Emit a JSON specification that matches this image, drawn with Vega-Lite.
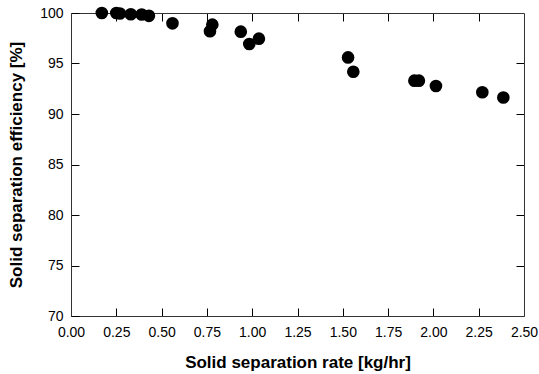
{
  "$schema": "https://vega.github.io/schema/vega-lite/v6.json",
  "width": 453,
  "height": 303,
  "autosize": "none",
  "padding": {"left": 71, "top": 13, "right": 15, "bottom": 58},
  "background": "white",
  "config": {
    "view": {"stroke": null},
    "font": "Liberation Sans",
    "axis": {
      "grid": false,
      "domainColor": "#333333",
      "tickColor": "#000000",
      "labelColor": "#000000",
      "titleColor": "#000000",
      "labelFont": "Liberation Sans",
      "titleFont": "Liberation Sans",
      "labelFontSize": 14,
      "titleFontSize": 17,
      "titleFontWeight": "bold",
      "tickSize": -8
    }
  },
  "data": {
    "values": [
      {"rate": 0.17, "eff": 100.0},
      {"rate": 0.25, "eff": 100.0},
      {"rate": 0.27, "eff": 99.95},
      {"rate": 0.33, "eff": 99.88},
      {"rate": 0.39, "eff": 99.85},
      {"rate": 0.43, "eff": 99.72},
      {"rate": 0.56, "eff": 98.98},
      {"rate": 0.767, "eff": 98.2},
      {"rate": 0.78, "eff": 98.85},
      {"rate": 0.937, "eff": 98.15},
      {"rate": 0.984, "eff": 96.93},
      {"rate": 1.037, "eff": 97.46},
      {"rate": 1.529, "eff": 95.6},
      {"rate": 1.558, "eff": 94.18},
      {"rate": 1.895, "eff": 93.3},
      {"rate": 1.92, "eff": 93.3},
      {"rate": 2.014, "eff": 92.77},
      {"rate": 2.27, "eff": 92.15},
      {"rate": 2.386, "eff": 91.63}
    ]
  },
  "layer": [
    {
      "mark": {"type": "point", "shape": "circle", "filled": true, "color": "#000000", "opacity": 1, "size": 160},
      "encoding": {
        "x": {
          "field": "rate", "type": "quantitative",
          "scale": {"domain": [0, 2.5], "nice": false, "zero": false},
          "axis": {"values": [0, 0.25, 0.5, 0.75, 1, 1.25, 1.5, 1.75, 2, 2.25, 2.5], "format": ".2f", "labelPadding": 17, "title": "Solid separation rate [kg/hr]", "titlePadding": 15, "labelFlush": false}
        },
        "y": {
          "field": "eff", "type": "quantitative",
          "scale": {"domain": [70, 100], "nice": false, "zero": false},
          "axis": {"values": [70, 75, 80, 85, 90, 95, 100], "labelPadding": 16, "title": "Solid separation efficiency [%]", "titlePadding": 14, "labelFlush": false}
        }
      }
    },
    {
      "mark": {"type": "point", "opacity": 0},
      "encoding": {
        "x": {
          "field": "rate", "type": "quantitative",
          "scale": {"domain": [0, 2.5], "nice": false, "zero": false},
          "axis": {"orient": "top", "values": [0.25, 0.5, 0.75, 1, 1.25, 1.5, 1.75, 2, 2.25], "labels": false, "title": null}
        },
        "y": {
          "field": "eff", "type": "quantitative",
          "scale": {"domain": [70, 100], "nice": false, "zero": false},
          "axis": {"orient": "right", "values": [75, 80, 85, 90, 95], "labels": false, "title": null}
        }
      }
    }
  ],
  "resolve": {"axis": {"x": "independent", "y": "independent"}}
}
